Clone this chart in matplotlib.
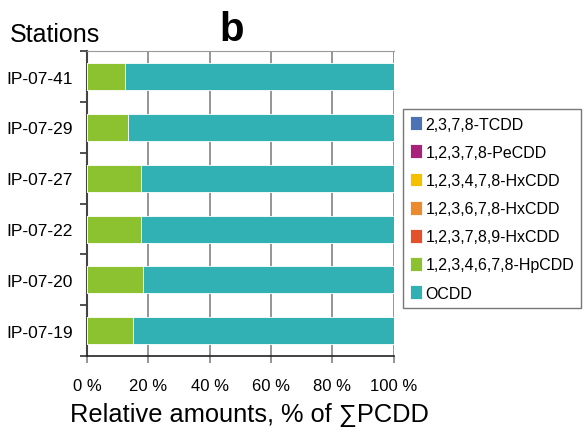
import matplotlib.pyplot as plt
import numpy as np

plt.rcParams['font.family'] = ['Liberation Sans', 'DejaVu Sans']

stations = ['IP-07-41', 'IP-07-29', 'IP-07-27', 'IP-07-22', 'IP-07-20', 'IP-07-19']
congeners = ['2,3,7,8-TCDD', '1,2,3,7,8-PeCDD', '1,2,3,4,7,8-HxCDD', '1,2,3,6,7,8-HxCDD',
             '1,2,3,7,8,9-HxCDD', '1,2,3,4,6,7,8-HpCDD', 'OCDD']
colors = ['#4a72b5', '#a8217a', '#f5c000', '#ec8a2e', '#e2512a', '#8cc130', '#31b1b3']

# relative amounts, % (order: stations top to bottom)
tcdd = [0.0, 0.0, 0.0, 0.0, 0.0, 0.0]
pecdd = [0.0, 0.0, 0.0, 0.0, 0.0, 0.0]
hxcdd_478 = [0.0, 0.0, 0.0, 0.0, 0.0, 0.0]
hxcdd_678 = [0.0, 0.0, 0.0, 0.0, 0.0, 0.0]
hxcdd_789 = [0.0, 0.0, 0.0, 0.0, 0.0, 0.0]
hpcdd = [12.4, 13.3, 17.7, 17.7, 18.3, 15.0]
ocdd = [87.6, 86.7, 82.3, 82.3, 81.7, 85.0]
series = [tcdd, pecdd, hxcdd_478, hxcdd_678, hxcdd_789, hpcdd, ocdd]

fig = plt.figure(figsize=(5.87, 4.35), dpi=100)
ax = fig.add_axes([0.148, 0.179, 0.523, 0.701])

y = np.arange(len(stations))[::-1]
left = np.zeros(len(stations))
for name, vals, c in zip(congeners, series, colors):
    vals = np.array(vals)
    ax.barh(y, vals, left=left, height=0.53, color=c, edgecolor='white',
            linewidth=0.6, label=name, zorder=3)
    left += vals

ax.set_xlim(0, 100)
ax.set_ylim(-0.5, len(stations) - 0.5)
ax.set_xticks(np.arange(0, 101, 20))
ax.set_xticklabels([f'{v} %' for v in range(0, 101, 20)], fontsize=12)
ax.xaxis.grid(True, color='#8c8c8c', linewidth=1.3, zorder=0)
ax.tick_params(axis='x', length=5, width=1.3, color='#8c8c8c', pad=11)

ax.set_yticks(y)
ax.set_yticklabels(stations, fontsize=12.5)
ax.set_yticks(np.arange(-0.5, len(stations), 1), minor=True)
ax.tick_params(axis='y', which='major', length=0, pad=10)
ax.tick_params(axis='y', which='minor', length=5, width=1.2, color='#333333')

ax.spines['top'].set_color('#999999')
ax.spines['right'].set_visible(False)
ax.spines['left'].set_color('#444444')
ax.spines['left'].set_linewidth(1.5)
ax.spines['bottom'].set_color('#222222')
ax.spines['bottom'].set_linewidth(1.2)

fig.text(0.425, 0.03, 'Relative amounts, % of \u2211PCDD', fontsize=18.3,
         ha='center', va='baseline')
fig.text(0.017, 0.903, 'Stations', fontsize=18, va='baseline')
fig.text(0.374, 0.905, 'b', fontsize=29, fontweight='bold', va='baseline')

leg = ax.legend(loc='upper left', bbox_to_anchor=(1.03, 0.81), fontsize=11.5,
                frameon=True, fancybox=False, edgecolor='#555555',
                handlelength=0.75, handleheight=0.95, handletextpad=0.2,
                labelspacing=0.8, borderpad=0.45, borderaxespad=0)
leg.get_frame().set_linewidth(1.0)

fig.savefig('out.png', dpi=100)
